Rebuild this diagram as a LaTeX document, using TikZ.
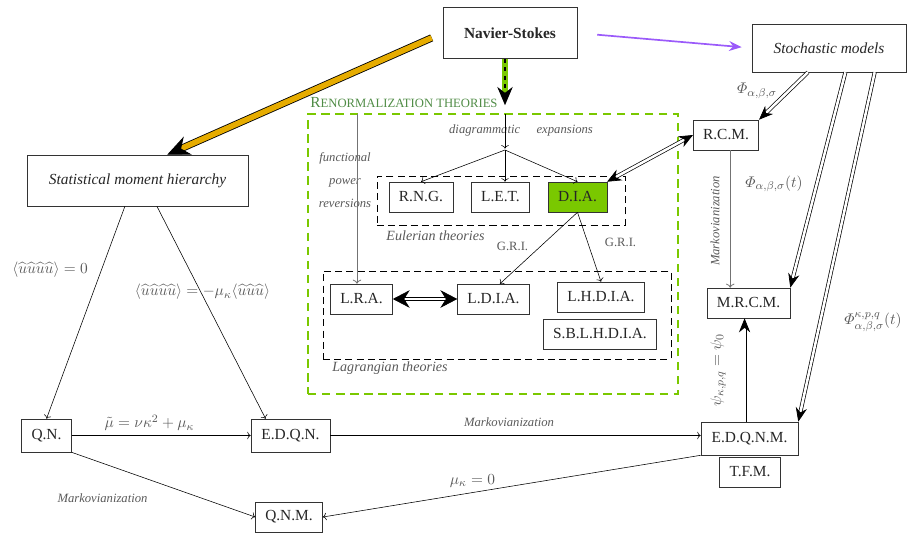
\documentclass[tikz,border=0pt,11pt]{standalone}
\usepackage{amsmath,amssymb}
\usepackage[no-math]{fontspec}
\setmainfont{Liberation Serif}
\usetikzlibrary{arrows.meta,positioning,calc}
\definecolor{limegreen}{RGB}{122,200,0}
\definecolor{rengreen}{RGB}{80,140,70}
\definecolor{goldarrow}{RGB}{230,172,0}
\definecolor{violetarrow}{RGB}{155,90,250}

\begin{document}
\begin{tikzpicture}[x=0.025cm,y=-0.025cm,
box/.style={draw=black!80,rectangle,minimum height=0.75cm,inner xsep=7pt,text=black!85},
qbox/.style={box,minimum height=0.825cm},
frame/.style={draw,rectangle,dash pattern=on 5pt off 3pt},
lbl/.style={text=black!65,inner sep=1pt},
smalllbl/.style={lbl,font=\footnotesize\itshape},
dbl/.style={double,double distance=1.8pt,line width=0.5pt,-{Stealth[length=10pt,width=8pt]}}]
\useasboundingbox (0,0) rectangle (907,533);
\node[box,minimum width=3.35cm,minimum height=1.275cm,font=\bfseries] (NS) at (510,33) {Navier-Stokes};
\node[box,minimum width=3.85cm,minimum height=1.2cm,font=\itshape] (SM) at (829,48) {Stochastic models};
\node[box,minimum width=5.525cm,minimum height=1.275cm,font=\itshape] (SMH) at (137.5,180.5) {Statistical moment hierarchy};
\node[draw=limegreen,line width=1.6pt,dash pattern=on 6pt off 4pt,minimum width=9.25cm,minimum height=7cm] (REN) at (493,254) {};
\node[text=rengreen,inner sep=0pt] (RENT) at (404,103) {R{\footnotesize ENORMALIZATION THEORIES}};
\node[frame,minimum width=6.2cm,minimum height=1.225cm] (EUL) at (501,200.5) {};
\node[frame,minimum width=8.7cm,minimum height=2.2cm] (LAG) at (497,315) {};
\node[box] (RNG) at (421,197) {R.N.G.};
\node[box] (LET) at (500.5,197) {L.E.T.};
\node[box,fill=limegreen] (DIA) at (577.5,197) {D.I.A.};
\node[box] (LRA) at (361.5,299) {L.R.A.};
\node[box] (LDIA) at (493.5,299) {L.D.I.A.};
\node[box] (LHDIA) at (601,297) {L.H.D.I.A.};
\node[box] (SBL) at (600,334) {S.B.L.H.D.I.A.};
\node[box] (RCM) at (726,135) {R.C.M.};
\node[box] (MRCM) at (748.5,303) {M.R.C.M.};
\node[qbox,minimum width=2.425cm] (EDQNM) at (749.5,438.5) {E.D.Q.N.M.};
\node[box] (TFM) at (750,472) {T.F.M.};
\node[qbox] (QN) at (46.5,435.5) {Q.N.};
\node[qbox,minimum width=1.975cm] (EDQN) at (290.5,435.5) {E.D.Q.N.};
\node[box] (QNM) at (289,517) {Q.N.M.};
\coordinate (top) at (505,114);
\coordinate (split) at (505,150);
\coordinate (fpr) at (357,114);
\node[smalllbl] (diag) at (521,130) {diagrammatic\hspace{1.3em}expansions};
\node[lbl,align=center,font=\fontsize{9}{16.5}\selectfont\itshape] (fun) at (345,180) {functional\\power\\reversions};
\node[lbl,font=\small\itshape] (eult) at (435.5,236) {Eulerian theories};
\node[lbl,font=\small\itshape] (lagt) at (390,368) {Lagrangian theories};
\node[lbl,font=\footnotesize] (gri1) at (512.5,246) {G.R.I.};
\node[lbl,font=\footnotesize] (gri2) at (620.5,242) {G.R.I.};
\node[lbl] (phi1) at (757,91) {$\varPhi_{\alpha,\beta,\sigma}$};
\node[lbl] (phi2) at (774,184) {$\varPhi_{\alpha,\beta,\sigma}(t)$};
\node[lbl] (phi3) at (873,322) {$\varPhi^{\kappa,p,q}_{\alpha,\beta,\sigma}(t)$};
\node[smalllbl,rotate=90] (mark1) at (715,221) {Markovianization};
\node[lbl,rotate=90] (psi) at (718,370) {$\psi_{\kappa,p,q} = \psi_0$};
\node[lbl] (mom1) at (50,270) {$\langle\widehat{u}\widehat{u}\widehat{u}\widehat{u}\rangle = 0$};
\node[lbl] (mom2) at (202.5,292) {$\langle\widehat{u}\widehat{u}\widehat{u}\widehat{u}\rangle = -\mu_\kappa\langle\widehat{u}\widehat{u}\widehat{u}\rangle$};
\node[lbl] (mut) at (149.5,423) {$\tilde{\mu} = \nu\kappa^2 + \mu_\kappa$};
\node[smalllbl] (mark2) at (509,422) {Markovianization};
\node[smalllbl] (mark3) at (102.5,498) {Markovianization};
\node[lbl] (mu0) at (472.5,481) {$\mu_\kappa = 0$};
\draw[double=goldarrow,double distance=4pt,line width=0.6pt,shorten <=0.3cm,-{Stealth[length=16pt,width=14pt]}] (NS.west) -- (SMH.41);
\draw[violetarrow,line width=1.2pt,shorten <=0.5cm,shorten >=0.25cm,-{Stealth[length=9pt,width=7pt]}] (NS.east) -- (SM.west);
\draw[limegreen,line width=4.5pt,shorten >=0.45cm] (NS.south -| top) -- (top);
\draw[dashed,line width=0.8pt,shorten >=0.22cm,-{Stealth[length=13pt,width=11pt]}] (NS.south -| top) -- (top);
\draw[->,shorten >=1pt] (top) -- (split);
\draw[->] (split) -- (RNG.north);
\draw[->] (split) -- (split |- LET.north);
\draw[->] (split) -- (DIA.north);
\draw[->,black!55,line width=0.6pt] (fpr) -- (fpr |- LRA.north);
\draw[->] (DIA.south) -- (LDIA.67);
\draw[->] (DIA.south) -- (LHDIA.north);
\draw[dbl,{Stealth[length=12pt,width=12.5pt]}-{Stealth[length=12pt,width=12.5pt]}] (LRA) -- (LDIA);
\draw[dbl,{Stealth[length=10pt,width=8.5pt]}-{Stealth[length=10pt,width=8.5pt]}] (DIA.north east) -- (RCM.west);
\draw[dbl] (SM.229) -- (RCM.north east);
\draw[dbl] (SM.304) -- (MRCM.north east);
\draw[dbl] (SM.332) -- (EDQNM.north east);
\draw[->,black!55,line width=0.6pt] ([xshift=3pt]RCM.south) -- ([xshift=3pt]RCM.south |- MRCM.north);
\draw[dbl] ([xshift=-3.5pt]EDQNM.north) -- ([xshift=-3.5pt]EDQNM.north |- MRCM.south);
\draw[->] (SMH.244) -- (QN.north);
\draw[->] (SMH.307) -- (EDQN.146);
\draw[->] (QN) -- (EDQN);
\draw[->] (EDQN.east) -- (EDQN.east -| EDQNM.west);
\draw[->] (QN.south east) -- (QNM.west);
\draw[->] (EDQNM.south west) -- (QNM.east);
\end{tikzpicture}
\end{document}
